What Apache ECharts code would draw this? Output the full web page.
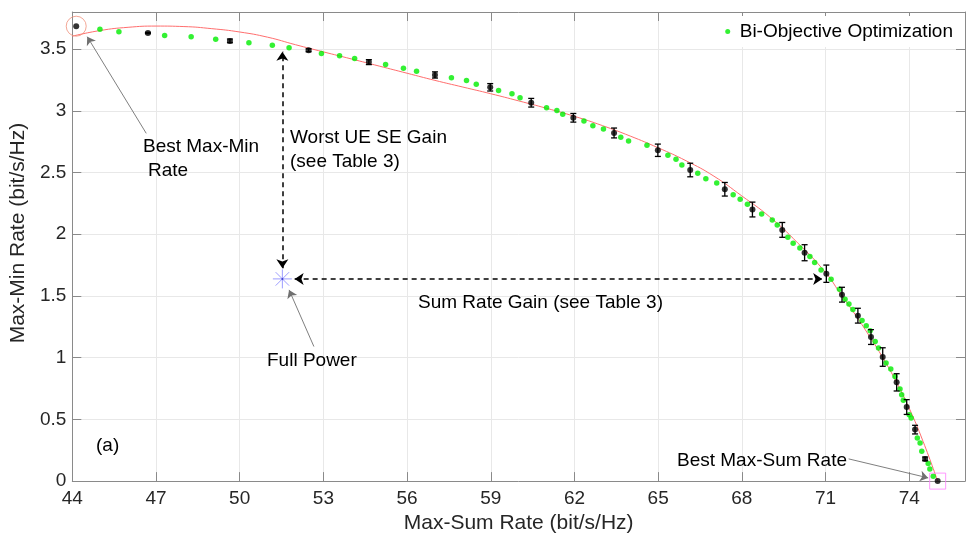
<!DOCTYPE html>
<html><head><meta charset="utf-8">
<script src="https://cdn.jsdelivr.net/npm/echarts@6/dist/echarts.min.js"></script>
<style>html,body{margin:0;padding:0;background:#fff}#c{width:971px;height:539px}</style>
</head><body><div id="c"></div>
<script>
const FONT = '"Liberation Sans", Arial, Helvetica, sans-serif';

// axes
const xMin = 44, xMax = 76, xStep = 3;
const yMin = 0, yMax = 3.8, yStep = 0.5;
const xName = 'Max-Sum Rate (bit/s/Hz)';
const yName = 'Max-Min Rate (bit/s/Hz)';
const legendName = 'Bi-Objective Optimization';

// green dots: Bi-Objective Optimization
const greenX = [44.99,45.67,47.31,48.26,49.14,50.33,51.17,51.77,52.93,53.58,54.12,55.23,55.87,56.34,57.59,58.13,58.48,59.28,59.76,60.05,61.0,61.37,61.58,62.34,62.66,63.04,63.66,63.94,64.6,65.35,65.64,65.85,66.42,66.71,67.1,67.69,67.94,68.2,68.71,69.09,69.27,69.65,69.84,70.08,70.44,70.61,70.84,71.2,71.5,71.7,71.84,71.98,72.31,72.46,72.6,72.78,72.9,73.17,73.34,73.49,73.67,73.73,73.79,74.0,74.07,74.29,74.39,74.45,74.68,74.74,74.86];
const greenY = [3.66,3.64,3.61,3.60,3.58,3.55,3.53,3.51,3.464,3.445,3.424,3.375,3.345,3.32,3.267,3.246,3.214,3.165,3.137,3.105,3.024,3.003,2.971,2.917,2.879,2.852,2.785,2.755,2.72,2.64,2.607,2.56,2.494,2.45,2.415,2.32,2.283,2.243,2.164,2.116,2.075,1.976,1.927,1.889,1.82,1.77,1.71,1.636,1.555,1.474,1.434,1.39,1.30,1.258,1.218,1.13,1.078,0.956,0.908,0.848,0.746,0.70,0.654,0.538,0.511,0.35,0.309,0.241,0.142,0.099,0.039];

// black points with error bars
const blackX = [44.14,46.71,49.65,52.47,54.63,57.0,58.98,60.45,61.96,63.42,64.99,66.15,67.39,68.38,69.45,70.25,71.03,71.59,72.16,72.63,73.05,73.55,73.91,74.21,74.57,75.02];
const blackY = [3.685,3.63,3.566,3.49,3.394,3.29,3.19,3.065,2.943,2.82,2.68,2.52,2.364,2.20,2.035,1.85,1.68,1.51,1.34,1.167,1.005,0.80,0.60,0.417,0.18,0];
const blackErr = [0,0.005,0.015,0.012,0.02,0.025,0.03,0.035,0.035,0.04,0.05,0.055,0.055,0.06,0.06,0.065,0.07,0.06,0.06,0.06,0.075,0.07,0.06,0.035,0.015,0];

// red fitted curve
const fitX = [44,45,46,47,48,49,50,51,52,53,54,55,56,57,58,59,60,61,62,63,64,65,66,67,68,69,70,71,71.5,72,72.5,73,73.5,74,74.5,75.02];
const fitY = [3.604,3.650,3.676,3.686,3.682,3.665,3.638,3.596,3.535,3.477,3.420,3.362,3.304,3.246,3.192,3.138,3.080,3.020,2.955,2.880,2.795,2.700,2.595,2.470,2.310,2.140,1.930,1.690,1.530,1.370,1.200,1.020,0.820,0.590,0.320,0];

// annotation anchors (data coordinates)
const fullPower = [51.53, 1.638];
const bestMaxMin = [44.14, 3.685];
const bestMaxSum = [75.02, 0];

const chart = echarts.init(document.getElementById('c'), null, {renderer: 'canvas'});

const zip = (a, b) => a.map((v, i) => [v, b[i]]);
const tickColor = '#262626';
const axisLineColor = '#8a8a8a';

const gridLine = {show: true, lineStyle: {color: '#e8e8e8', width: 1}};
const txt = (x, y, s) => ({type: 'text', x: x, y: y, z: 100, zlevel: 0,
  style: {text: s, fontFamily: FONT, fontSize: 19, fill: '#000', verticalAlign: 'middle'}});

const option = {
  animation: false,
  backgroundColor: '#fff',
  grid: {left: 68, right: 6, top: 12, bottom: 57.5, containLabel: false},
  legend: {
    data: [legendName],
    right: 12, top: 16,
    icon: 'circle', itemWidth: 14, itemHeight: 5,
    padding: [6, 6, 6, 6],
    backgroundColor: '#fff',
    textStyle: {fontFamily: FONT, fontSize: 19, color: '#000'}
  },
  xAxis: [{
    type: 'value', min: xMin, max: xMax, interval: xStep,
    name: xName, nameLocation: 'middle', nameGap: 31,
    nameTextStyle: {fontFamily: FONT, fontSize: 21, color: tickColor},
    axisLine: {show: true, onZero: false, lineStyle: {color: axisLineColor}},
    axisTick: {show: true, inside: true, length: 9, lineStyle: {color: axisLineColor}},
    axisLabel: {fontFamily: FONT, fontSize: 19, color: tickColor, margin: 8, showMaxLabel: false},
    splitLine: gridLine
  }, {
    type: 'value', min: xMin, max: xMax, interval: xStep, position: 'top',
    axisLine: {show: true, onZero: false, lineStyle: {color: axisLineColor}},
    axisTick: {show: true, inside: true, length: 9, lineStyle: {color: axisLineColor}},
    axisLabel: {show: false}, splitLine: {show: false}
  }],
  yAxis: [{
    type: 'value', min: yMin, max: yMax, interval: yStep,
    name: yName, nameLocation: 'middle', nameGap: 36, nameRotate: 90,
    nameTextStyle: {fontFamily: FONT, fontSize: 21, color: tickColor, padding: [0, 0, 0, 27]},
    axisLine: {show: true, onZero: false, lineStyle: {color: axisLineColor}},
    axisTick: {show: true, inside: true, length: 9, lineStyle: {color: axisLineColor}},
    axisLabel: {fontFamily: FONT, fontSize: 19, color: tickColor, margin: 6, showMaxLabel: false},
    splitLine: gridLine
  }, {
    type: 'value', min: yMin, max: yMax, interval: yStep, position: 'right',
    axisLine: {show: true, onZero: false, lineStyle: {color: axisLineColor}},
    axisTick: {show: true, inside: true, length: 9, lineStyle: {color: axisLineColor}},
    axisLabel: {show: false}, splitLine: {show: false}
  }],
  series: [
    {
      name: 'fit', type: 'line', data: zip(fitX, fitY), smooth: 0.5,
      symbol: 'none', lineStyle: {color: '#ff6e6e', width: 1}, z: 2, silent: true,
      markLine: {
        silent: true, animation: false, label: {show: false},
        symbol: ['arrow', 'arrow'], symbolSize: 9,
        lineStyle: {color: '#000', width: 1.5, type: [5, 4]},
        data: [
          [{coord: [51.53, 1.725]}, {coord: [51.53, 3.478]}],
          [{coord: [51.97, 1.638]}, {coord: [70.88, 1.638]}],
          [{coord: [46.65, 2.817], symbol: 'none', lineStyle: {color: '#707070', width: 0.9, type: 'solid'}},
           {coord: [44.535, 3.60], symbol: 'arrow', symbolSize: 8}],
          [{coord: [52.66, 1.09], symbol: 'none', lineStyle: {color: '#707070', width: 0.9, type: 'solid'}},
           {coord: [51.77, 1.549], symbol: 'arrow', symbolSize: 8}],
          [{coord: [71.83, 0.18], symbol: 'none', lineStyle: {color: '#707070', width: 0.9, type: 'solid'}},
           {coord: [74.68, 0.026], symbol: 'arrow', symbolSize: 8}]
        ]
      }
    },
    {
      name: legendName, type: 'scatter', data: zip(greenX, greenY),
      symbol: 'circle', symbolSize: 5.5, itemStyle: {color: '#00ee00'}, z: 3
    },
    {
      name: 'errbars', type: 'custom', z: 4, silent: true,
      data: blackX.map((x, i) => [x, blackY[i], blackErr[i]]),
      renderItem: function (params, api) {
        const x = api.value(0), y = api.value(1), e = api.value(2);
        if (!e) return {type: 'group', children: []};
        const t = api.coord([x, y + e]);
        const b = api.coord([x, y - e]);
        const cw = 3;
        const st = {stroke: '#000', lineWidth: 1.3};
        return {type: 'group', children: [
          {type: 'line', shape: {x1: t[0], y1: t[1], x2: b[0], y2: b[1]}, style: st},
          {type: 'line', shape: {x1: t[0] - cw, y1: t[1], x2: t[0] + cw, y2: t[1]}, style: st},
          {type: 'line', shape: {x1: b[0] - cw, y1: b[1], x2: b[0] + cw, y2: b[1]}, style: st}
        ]};
      }
    },
    {
      name: 'mean', type: 'scatter', data: zip(blackX, blackY),
      symbol: 'circle', symbolSize: 6, itemStyle: {color: '#000'}, z: 5
    },
    {
      name: 'fullPower', type: 'scatter', data: [fullPower], z: 6, silent: true,
      symbol: 'path://M10,0L10,20M0,10L20,10M2.9,2.9L17.1,17.1M2.9,17.1L17.1,2.9', symbolSize: 19,
      itemStyle: {color: 'rgba(0,0,0,0)', borderColor: '#8585ff', borderWidth: 1}
    },
    {
      name: 'fullPowerDot', type: 'scatter', data: [fullPower], z: 7, silent: true,
      symbol: 'circle', symbolSize: 2, itemStyle: {color: '#3030c0'}
    },
    {
      name: 'circleMark', type: 'scatter', data: [bestMaxMin], z: 6, silent: true,
      symbol: 'circle', symbolSize: 20,
      itemStyle: {color: 'rgba(0,0,0,0)', borderColor: '#f0917c', borderWidth: 1}
    },
    {
      name: 'squareMark', type: 'scatter', data: [bestMaxSum], z: 6, silent: true,
      symbol: 'rect', symbolSize: 16,
      itemStyle: {color: 'rgba(0,0,0,0)', borderColor: '#ff7fff', borderWidth: 1}
    }
  ],
  graphic: {elements: [
    txt(143, 147, 'Best Max-Min'),
    txt(148, 171, 'Rate'),
    txt(290, 138, 'Worst UE SE Gain'),
    txt(290, 162, '(see Table 3)'),
    txt(418, 303, 'Sum Rate Gain (see Table 3)'),
    txt(267, 361, 'Full Power'),
    txt(96, 446, '(a)'),
    txt(677, 461, 'Best Max-Sum Rate')
  ]}
};
chart.setOption(option);
</script></body></html>
